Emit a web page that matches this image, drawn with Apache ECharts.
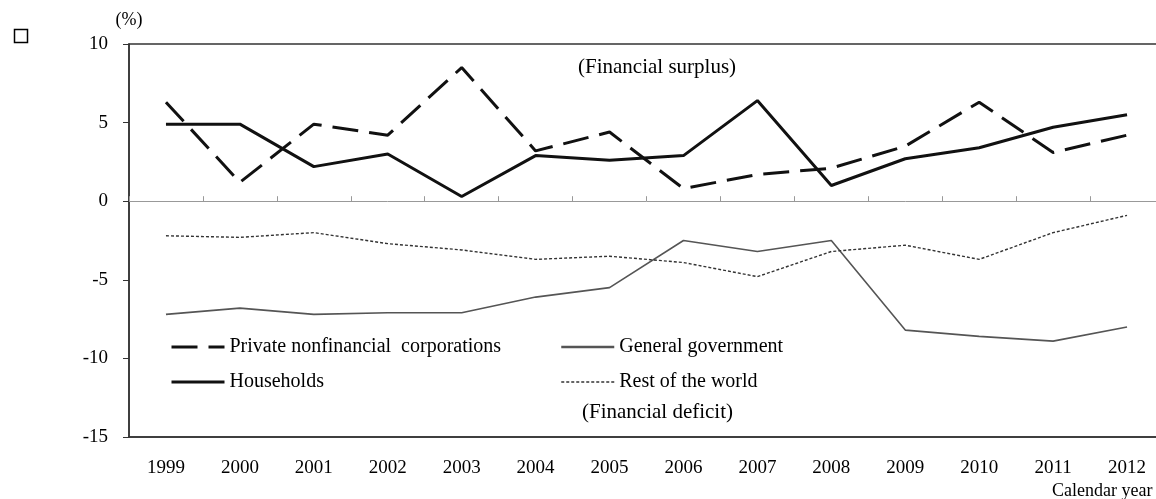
<!DOCTYPE html>
<html>
<head>
<meta charset="utf-8">
<script src="https://cdn.jsdelivr.net/npm/echarts@6/dist/echarts.min.js"></script>
<style>
  html, body { margin: 0; padding: 0; background: #fff; overflow: hidden; }
  #chart { width: 1172px; height: 499px; }
</style>
</head>
<body>
<div id="chart"></div>
<script>
var years = ['1999', '2000', '2001', '2002', '2003', '2004', '2005', '2006', '2007', '2008', '2009', '2010', '2011', '2012'];
var privateCorp = [6.3, 1.2, 4.9, 4.2, 8.5, 3.2, 4.4, 0.8, 1.7, 2.1, 3.5, 6.3, 3.1, 4.2];
var households = [4.9, 4.9, 2.2, 3.0, 0.3, 2.9, 2.6, 2.9, 6.4, 1.0, 2.7, 3.4, 4.7, 5.5];
var government = [-7.2, -6.8, -7.2, -7.1, -7.1, -6.1, -5.5, -2.5, -3.2, -2.5, -8.2, -8.6, -8.9, -8.0];
var restOfWorld = [-2.2, -2.3, -2.0, -2.7, -3.1, -3.7, -3.5, -3.9, -4.8, -3.2, -2.8, -3.7, -2.0, -0.9];
var seriesNames = ['Private nonfinancial  corporations', 'Households', 'General government', 'Rest of the world'];

var FONT = 'Liberation Serif';
var chart = echarts.init(document.getElementById('chart'));
var legendCommon = {
  orient: 'vertical', itemGap: 15, itemWidth: 53, itemHeight: 20,
  itemStyle: { opacity: 0, borderWidth: 0 },
  textStyle: { fontFamily: FONT, fontSize: 20, color: '#000' }
};
chart.setOption({
  animation: false,
  backgroundColor: '#fff',
  textStyle: { fontFamily: FONT, color: '#000' },
  grid: {
    left: 129, top: 44, height: 393, width: 1035,
    show: true, borderColor: '#333', borderWidth: 1.5, backgroundColor: 'transparent'
  },
  xAxis: [
    {
      type: 'category', data: years, position: 'bottom',
      axisLine: { onZero: false, lineStyle: { color: '#333', width: 1.5 } },
      axisTick: { show: false },
      axisLabel: { color: '#000', fontFamily: FONT, fontSize: 19, margin: 22 },
      splitLine: { show: false }
    },
    {
      type: 'category', data: years, position: 'bottom',
      axisLine: { onZero: true, lineStyle: { color: '#999', width: 1 } },
      axisTick: { show: true, inside: true, length: 5, lineStyle: { color: '#999', width: 1 } },
      axisLabel: { show: false },
      splitLine: { show: false }
    }
  ],
  yAxis: {
    type: 'value', min: -15, max: 10, interval: 5,
    name: '(%)', nameLocation: 'end', nameGap: 15,
    nameTextStyle: { fontFamily: FONT, fontSize: 18, color: '#000', align: 'center' },
    axisLine: { show: true, lineStyle: { color: '#333', width: 1.5 } },
    axisTick: { show: true, length: 6, lineStyle: { color: '#333' } },
    axisLabel: { color: '#000', fontFamily: FONT, fontSize: 19, margin: 21 },
    splitLine: { show: false }
  },
  legend: [
    Object.assign({
      data: [
        { name: seriesNames[0], lineStyle: { width: 3 } },
        { name: seriesNames[1], lineStyle: { width: 3 } }
      ],
      left: 165, top: 332
    }, legendCommon),
    Object.assign({
      data: [
        { name: seriesNames[2], lineStyle: { width: 2.5 } },
        { name: seriesNames[3], lineStyle: { width: 1.5 } }
      ],
      left: 555, top: 332
    }, legendCommon)
  ],
  graphic: [
    { type: 'rect', left: 12, top: 27, shape: { width: 13, height: 13 },
      style: { fill: 'none', stroke: '#000', lineWidth: 1.5 } },
    { type: 'text', left: 578, top: 57,
      style: { text: '(Financial surplus)', font: '21px "Liberation Serif"', fill: '#000' } },
    { type: 'text', left: 582, top: 402,
      style: { text: '(Financial deficit)', font: '21px "Liberation Serif"', fill: '#000' } },
    { type: 'text', left: 1052, top: 482,
      style: { text: 'Calendar year', font: '18px "Liberation Serif"', fill: '#000' } }
  ],
  series: [
    {
      name: seriesNames[0], type: 'line', data: privateCorp, xAxisIndex: 0,
      symbol: 'none', showSymbol: false, color: '#111',
      lineStyle: { color: '#111', width: 3, type: [26, 11] }
    },
    {
      name: seriesNames[1], type: 'line', data: households, xAxisIndex: 0,
      symbol: 'none', showSymbol: false, color: '#111',
      lineStyle: { color: '#111', width: 3, type: 'solid' }
    },
    {
      name: seriesNames[2], type: 'line', data: government, xAxisIndex: 0,
      symbol: 'none', showSymbol: false, color: '#555',
      lineStyle: { color: '#555', width: 1.6, type: 'solid' }
    },
    {
      name: seriesNames[3], type: 'line', data: restOfWorld, xAxisIndex: 0,
      symbol: 'none', showSymbol: false, color: '#333',
      lineStyle: { color: '#333', width: 1.4, type: [3, 2] }
    }
  ]
});
</script>
</body>
</html>
